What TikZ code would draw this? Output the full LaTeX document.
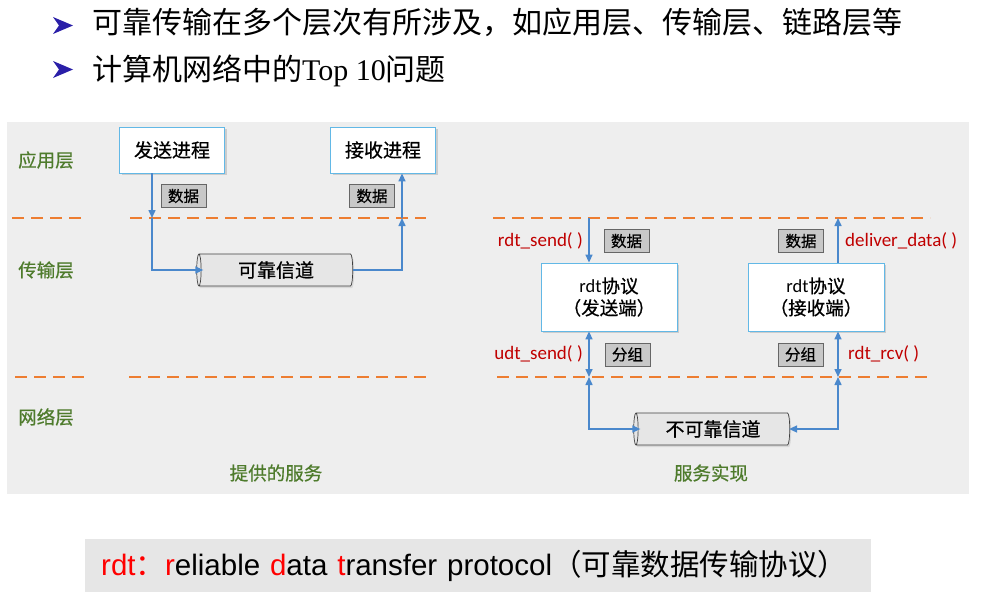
\documentclass[tikz,border=0pt]{standalone}
\usepackage{fontspec}
\setmainfont{Liberation Serif}
\newfontfamily\cjk{Noto Sans CJK SC}
\newfontfamily\cjkd[FakeBold=0.6]{Noto Sans CJK SC}
\newfontfamily\carl{Carlito}
\newfontfamily\ari{Liberation Sans}
\usetikzlibrary{shapes.geometric,arrows.meta,shadows}
\definecolor{panel}{HTML}{EEEEEE}
\definecolor{grn}{HTML}{4E7B2C}
\definecolor{org}{HTML}{ED7D31}
\definecolor{arw}{HTML}{4A88CC}
\definecolor{bordr}{HTML}{62B8E6}
\definecolor{dred}{HTML}{C00000}
\definecolor{bred}{HTML}{FF0000}
\definecolor{tagfill}{HTML}{C8C8C8}
\definecolor{bul}{HTML}{2A1FA8}
\definecolor{cylfill}{HTML}{E6E6E6}
\definecolor{defbg}{HTML}{E6E6E6}
\tikzset{
  procbox/.style={draw=bordr, fill=white, line width=0.8pt, inner sep=0pt,
    drop shadow={shadow xshift=2pt, shadow yshift=-2pt, opacity=0.3},
    font=\fontsize{19}{22}\selectfont\cjkd},
  rdtbox/.style={procbox, minimum width=136pt, minimum height=68pt, align=center,
    font=\fontsize{18.5}{22}\selectfont},
  tagbox/.style={draw=black!60, fill=tagfill, line width=0.7pt, inner sep=0pt,
    minimum width=45pt, minimum height=23pt, font=\fontsize{15.5}{17}\selectfont\cjkd},
  chan/.style={shape=cylinder, shape border rotate=180, aspect=0.25, draw=black!75,
    fill=cylfill, line width=0.7pt, inner sep=0pt, minimum height=156pt, minimum width=32pt,
    drop shadow={shadow xshift=1.5pt, shadow yshift=-2pt, opacity=0.2},
    font=\fontsize{19}{22}\selectfont\cjkd},
  layerlbl/.style={text=grn, font=\fontsize{18.5}{20}\selectfont\cjkd},
  redlbl/.style={text=dred, inner sep=0pt, font=\fontsize{19}{21}\selectfont\carl},
  dashline/.style={draw=org, line width=1.5pt, dash pattern=on 12pt off 7pt},
  arr/.style={draw=arw, line width=1.5pt, -{Triangle[length=8pt,width=7pt]}},
  arrb/.style={draw=arw, line width=1.5pt, {Triangle[length=8pt,width=7pt]}-{Triangle[length=8pt,width=7pt]}},
}
\begin{document}
\begin{tikzpicture}[x=1pt,y=-1pt]
\useasboundingbox (0,0) rectangle (992,602);
% title bullets
\fill[bul] (53,17) -- (73,25.5) -- (53,34) -- (59,25.5) -- cycle;
\fill[bul] (53,61) -- (73,69.5) -- (53,78) -- (59,69.5) -- cycle;
\node[anchor=base west, inner sep=0pt, font=\fontsize{30}{32}\selectfont\cjk] (t1) at (92,34)
  {可靠传输在多个层次有所涉及，如应用层、传输层、链路层等};
\node[anchor=base west, inner sep=0pt, font=\fontsize{30}{32}\selectfont] (t2) at (92,81)
  {{\cjk 计算机网络中的}Top 10{\cjk 问题}};
% panel
\fill[panel] (7,122) rectangle (969,494);
% layer labels
\node[layerlbl] (app) at (46,160) {应用层};
\node[layerlbl] (trans) at (46,270) {传输层};
\node[layerlbl] (net) at (46,417) {网络层};
\node[layerlbl] (svc) at (276,473) {提供的服务};
\node[layerlbl] (impl) at (711,473) {服务实现};
% dashed layer separators
\draw[dashline] (12,218) -- (84,218);
\draw[dashline] (130,218) -- (426,218);
\draw[dashline] (493,218) -- (930,218);
\draw[dashline] (15,377) -- (87,377);
\draw[dashline] (129,377) -- (426,377);
\draw[dashline] (497,377) -- (933,377);
% left: service provided
\node[procbox, minimum width=105pt, minimum height=46pt] (sendp) at (172,150) {发送进程};
\node[procbox, minimum width=105pt, minimum height=46pt] (recvp) at (383,150) {接收进程};
\node[tagbox] (tagA) at (183.5,196) {数据};
\node[tagbox] (tagB) at (372,196) {数据};
\node[chan] (cyl1) at (276,270) {可靠信道};
\coordinate (lc1) at (152,218);
\coordinate (rc1) at (402,218);
\draw[arr] (sendp.south -| lc1) -- (lc1);
\draw[arr] (lc1) |- ([xshift=7pt]cyl1.west);
\draw[arr] (cyl1.east) -| (rc1);
\draw[arr] (rc1) -- (rc1 |- recvp.south);
% right: service implementation
\node[rdtbox] (rsend) at (609,297) {{\carl rdt}{\cjkd 协议}\\{\cjkd （发送端）}};
\node[rdtbox] (rrecv) at (816,297) {{\carl rdt}{\cjkd 协议}\\{\cjkd （接收端）}};
\node[tagbox] (tagC) at (626.5,241) {数据};
\node[tagbox] (tagD) at (801,241) {数据};
\node[tagbox] (tagE) at (627.5,354.5) {分组};
\node[tagbox] (tagF) at (800.5,354.5) {分组};
\node[redlbl, anchor=east] (lsend) at (583,241) {rdt\_send( )};
\node[redlbl, anchor=west] (ldeliv) at (845,241) {deliver\_data( )};
\node[redlbl, anchor=east] (ludt) at (583,354) {udt\_send( )};
\node[redlbl, anchor=west] (lrcv) at (848,354) {rdt\_rcv( )};
\node[chan] (cyl2) at (713,429) {不可靠信道};
\coordinate (sd1) at (589,218);
\coordinate (dv1) at (838,218);
\coordinate (sd2) at (589,377);
\coordinate (dv2) at (838,377);
\draw[arr] (sd1) -- (sd1 |- rsend.north);
\draw[arr] (dv1 |- rrecv.north) -- (dv1);
\draw[arrb] (sd1 |- rsend.south) -- (sd2);
\draw[arrb] (dv1 |- rrecv.south) -- (dv2);
\draw[arrb] (sd2) |- ([xshift=7pt]cyl2.west);
\draw[arrb] (dv2) |- ([xshift=-1pt]cyl2.east);
% definition box
\node[fill=defbg, anchor=west, minimum height=53pt, inner xsep=16pt, text width=754pt,
  align=left, font=\fontsize{29.5}{31}\selectfont\ari] (defn) at (85,565.5)
  {{\color{bred}rdt{\cjk ：}r}eliable {\color{bred}d}ata {\color{bred}t}ransfer protocol{\cjk （可靠数据传输协议）}};
\end{tikzpicture}
\end{document}
